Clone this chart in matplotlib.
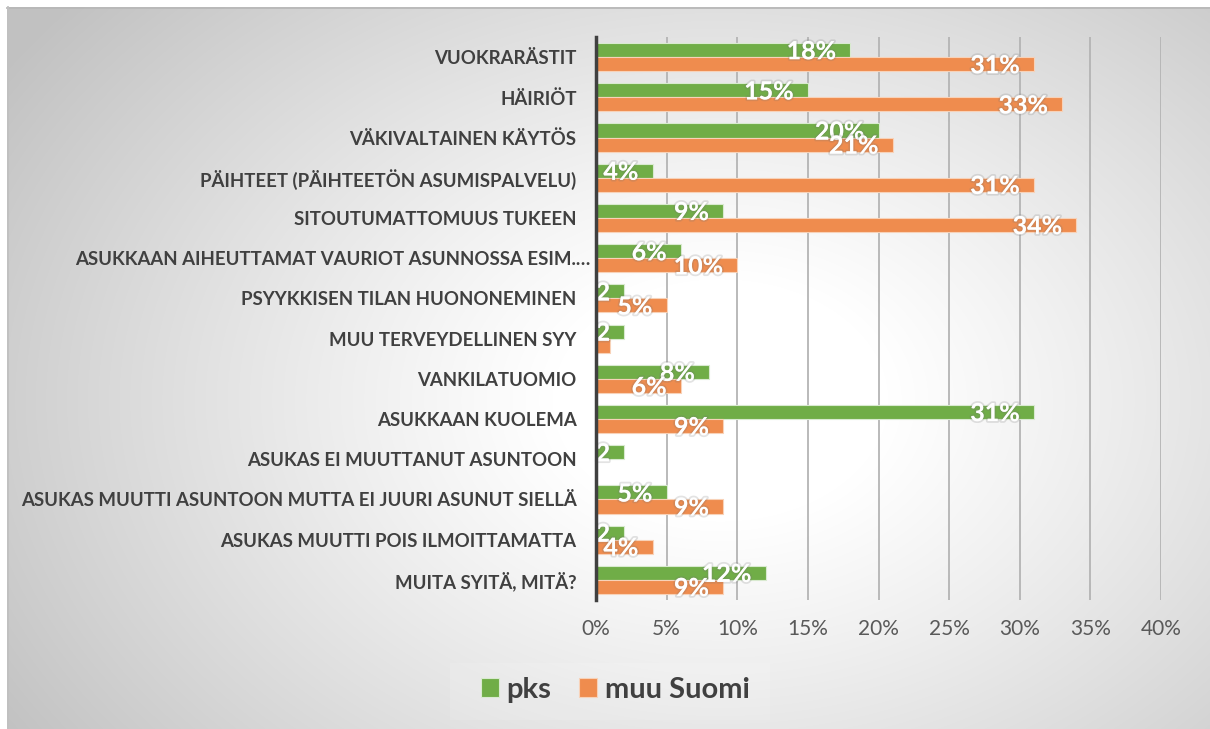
import numpy as np
import matplotlib.pyplot as plt
import matplotlib.patheffects as pe
from matplotlib.patches import Rectangle
from matplotlib.transforms import ScaledTranslation

categories = [
    "VUOKRARÄSTIT",
    "HÄIRIÖT",
    "VÄKIVALTAINEN KÄYTÖS",
    "PÄIHTEET (PÄIHTEETÖN ASUMISPALVELU)",
    "SITOUTUMATTOMUUS TUKEEN",
    "ASUKKAAN AIHEUTTAMAT VAURIOT ASUNNOSSA ESIM.…",
    "PSYYKKISEN TILAN HUONONEMINEN",
    "MUU TERVEYDELLINEN SYY",
    "VANKILATUOMIO",
    "ASUKKAAN KUOLEMA",
    "ASUKAS EI MUUTTANUT ASUNTOON",
    "ASUKAS MUUTTI ASUNTOON MUTTA EI JUURI ASUNUT SIELLÄ",
    "ASUKAS MUUTTI POIS ILMOITTAMATTA",
    "MUITA SYITÄ, MITÄ?",
]
pks = [18, 15, 20, 4, 9, 6, 2, 2, 8, 31, 2, 5, 2, 12]
muu = [31, 33, 21, 31, 34, 10, 5, 1, 6, 9, 0, 9, 4, 9]
# labels as they show in the chart (small ones are cut off)
pks_lab = ["18%", "15%", "20%", "4%", "9%", "6%", "2", "2", "8%", "31%", "2", "5%", "2", "12%"]
muu_lab = ["31%", "33%", "21%", "31%", "34%", "10%", "5%", "", "6%", "9%", "", "9%", "4%", "9%"]

W, H = 1210, 729
fig = plt.figure(figsize=(W / 100, H / 100), dpi=100)

# gradient background
bg = fig.add_axes([0, 0, 1, 1], zorder=-10)
yy, xx = np.mgrid[0:H, 0:W]
r = np.sqrt(((xx - 720) / 720) ** 2 + ((yy - 400) / 520) ** 2)
shade = np.clip(1.04 - 0.23 * r ** 1.2, 0.76, 1.0)
img = np.dstack([shade, shade, shade])
img[:7, :] = 1.0
img[:, :7] = 1.0
bg.imshow(img, aspect="auto", extent=[0, W, H, 0])
bg.plot([7, W], [7.5, 7.5], color="#b8b8b8", lw=1.3)
bg.plot([7.5, 7.5], [7, H], color="#c0c0c0", lw=1.3)
bg.add_patch(Rectangle((450, 663), 320, 57, fc="white", ec="none", alpha=0.12))
bg.set_xlim(0, W)
bg.set_ylim(H, 0)
bg.axis("off")

ax = fig.add_axes([596 / W, 1 - 600 / H, (1161 - 596) / W, (600 - 37) / H])
ax.patch.set_alpha(0)
y = np.arange(len(categories))
h = 0.35
green = "#70AD47"
orange = "#EF8C4E"
ax.barh(y - h / 2, pks, height=h, color=green, edgecolor="#d9ead0", linewidth=0.8, zorder=3)
ax.barh(y + h / 2, muu, height=h, color=orange, edgecolor="#f8d2b8", linewidth=0.8, zorder=3)

glow = [pe.withStroke(linewidth=2.5, foreground=(0.45, 0.45, 0.45, 0.2))]
for i in range(len(categories)):
    if pks_lab[i]:
        ax.text(pks[i] - 1.0, y[i] - h / 2 + 0.04, pks_lab[i], ha="right", va="center",
                color="white", fontsize=18, fontweight="bold", family="Lato",
                path_effects=glow, zorder=5)
    if muu_lab[i]:
        ax.text(muu[i] - 1.0, y[i] + h / 2 + 0.04, muu_lab[i], ha="right", va="center",
                color="white", fontsize=18, fontweight="bold", family="Lato",
                path_effects=glow, zorder=5)

ax.set_xlim(0, 40)
ax.set_ylim(len(categories) - 0.5, -0.5)
ax.set_xticks(range(0, 41, 5))
ax.set_xticklabels([f"{v}%" for v in range(0, 41, 5)])
ax.set_yticks(y)
ax.set_yticklabels(categories)
ax.grid(axis="x", color="#b4b4b4", lw=1.3, zorder=0)
for s in ["top", "right", "bottom"]:
    ax.spines[s].set_visible(False)
ax.spines["left"].set_color("#404040")
ax.spines["left"].set_linewidth(2.5)
ax.spines["left"].set_zorder(6)
ax.tick_params(axis="x", length=0, pad=14, labelsize=15, labelcolor="#595959")
ax.tick_params(axis="y", length=0, pad=14, labelsize=13.4)
for t in ax.get_xticklabels():
    t.set_family("Lato")
for i, t in enumerate(ax.get_yticklabels()):
    t.set_family("Lato")
    t.set_fontweight("bold")
    t.set_color("#404040")
    if categories[i].endswith("…"):
        t.set_transform(t.get_transform() + ScaledTranslation(0.14, 0, fig.dpi_scale_trans))

leg = ax.legend(["pks", "muu Suomi"], loc="center", bbox_to_anchor=(0.034, 1 - (690 - 37) / 563),
                ncol=2, frameon=False, prop={"family": "Lato", "weight": "bold", "size": 21},
                handlelength=0.62, handleheight=0.62, columnspacing=0.97, handletextpad=0.25)
for t in leg.get_texts():
    t.set_color("#404040")

fig.savefig("out.png", dpi=100)
